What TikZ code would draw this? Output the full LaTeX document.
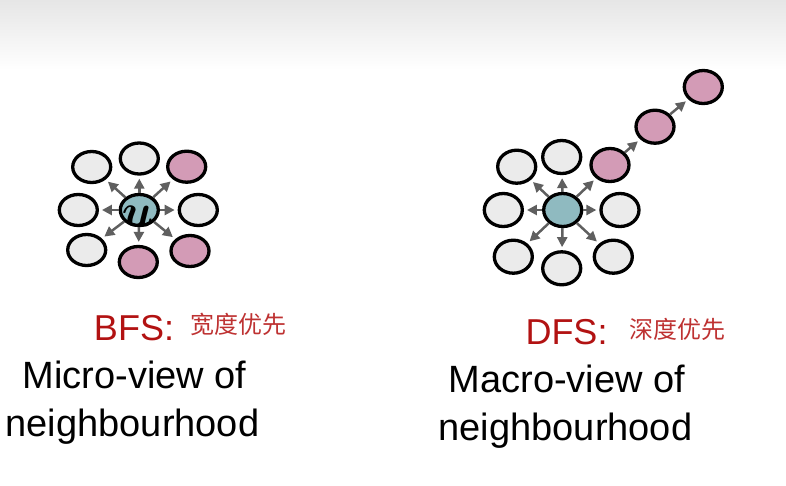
\documentclass[tikz,border=0pt]{standalone}
\usepackage{amsmath}
\usepackage{fontspec}
\setmainfont{Liberation Sans}
\newfontfamily\cjk{Noto Sans CJK SC}
\usetikzlibrary{shapes.geometric,arrows.meta}
\definecolor{nodegray}{RGB}{235,235,235}
\definecolor{nodepink}{RGB}{211,155,182}
\definecolor{nodeteal}{RGB}{143,186,192}
\definecolor{arrgray}{RGB}{95,95,95}
\definecolor{titlered}{RGB}{178,18,18}
\definecolor{cjkred}{RGB}{190,50,50}
\definecolor{topgray}{RGB}{230,230,230}
\tikzset{
  nd/.style={ellipse, draw=black, line width=3.3pt, inner sep=0pt, minimum width=38pt, minimum height=31pt},
  ndr/.style={nd, minimum height=33pt},
  gr/.style={fill=nodegray},
  pk/.style={fill=nodepink},
  tl/.style={fill=nodeteal},
  arr/.style={draw=arrgray, line width=2.5pt, -{Triangle[length=10pt,width=10pt]}, shorten >=3pt},
  big/.style={font=\fontsize{38}{46}\selectfont, anchor=base, inner sep=0pt},
  ttl/.style={font=\fontsize{36}{44}\selectfont, text=titlered, anchor=base, inner sep=0pt},
  ch/.style={font=\cjk\fontsize{24}{26}\selectfont, text=cjkred, anchor=center, inner sep=0pt}
}
\begin{document}
\begin{tikzpicture}[x=1pt,y=-1pt]
\useasboundingbox (0,0) rectangle (786,485);
\shade[top color=topgray, bottom color=white] (0,0) rectangle (786,70);
% BFS cluster
\node[nd,gr] (lt)  at (139.3,158.5) {};
\node[nd,gr] (ltl) at (91.7,167) {};
\node[nd,pk] (ltr) at (186.7,166.7) {};
\node[nd,gr] (ll)  at (78.3,210) {};
\node[nd,tl] (lc)  at (139.3,210) {};
\node[nd,gr] (lr)  at (198.3,210) {};
\node[nd,gr] (lbl) at (86.7,250) {};
\node[nd,pk] (lb)  at (138.3,262) {};
\node[nd,pk] (lbr) at (190,251) {};
\foreach \t in {lt,ltl,ltr,ll,lr,lbl,lb,lbr}
  \draw[arr] (lc) -- (\t);
\node[inner sep=0pt, anchor=base] (ulab) at (137.5,226.5) {\scalebox{4.6}{$\boldsymbol{u}$}};
% DFS cluster
\node[ndr,gr] (rtl) at (516.7,166.7) {};
\node[ndr,gr] (rt)  at (561.7,157) {};
\node[ndr,pk] (p1)  at (610,165) {};
\node[ndr,pk] (p2)  at (655,126.7) {};
\node[ndr,pk] (p3)  at (703.3,87) {};
\node[ndr,gr] (rl)  at (503.3,210) {};
\node[ndr,tl] (rc)  at (562.7,210) {};
\node[ndr,gr] (rr)  at (620,210) {};
\node[ndr,gr] (rbl) at (513.3,256.7) {};
\node[ndr,gr] (rb)  at (561.7,268.3) {};
\node[ndr,gr] (rbr) at (613.3,256.7) {};
\foreach \t in {rtl,rt,p1,rl,rr,rbl,rb,rbr}
  \draw[arr] (rc) -- (\t);
\draw[arr] (p1) -- (p2);
\draw[arr] (p2) -- (p3);
% texts
\node[ttl] (bfs) at (134,340.5) {BFS:};
\node[ch] (bfsc) at (238.5,324) {宽度优先};
\node[big] (m1) at (134.5,388.5) {Micro-view of};
\node[big] (m2) at (132.5,436.5) {neighbourhood};
\node[ttl] (dfs) at (566.5,344.5) {DFS:};
\node[ch] (dfsc) at (677.5,329) {深度优先};
\node[big] (n1) at (567,392.5) {Macro-view of};
\node[big] (n2) at (565.5,440) {neighbourhood};
\end{tikzpicture}
\end{document}
